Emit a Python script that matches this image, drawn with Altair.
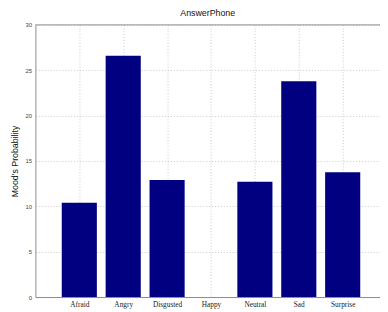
import altair as alt
import pandas as pd

categories = ["Afraid", "Angry", "Disgusted", "Happy", "Neutral", "Sad", "Surprise"]
values = [10.4, 26.6, 12.9, 0.0, 12.7, 23.8, 13.75]

positions = list(range(1, len(categories) + 1))
df = pd.DataFrame({"cat": categories, "pos": positions, "value": values})
df["x0"] = df["pos"] - 0.4
df["x1"] = df["pos"] + 0.4

label_expr = "[''," + ",".join(f"'{c}'" for c in categories) + "][datum.value] || ''"

x_scale = alt.Scale(domain=[0, 7.85], nice=False, zero=False)
y_scale = alt.Scale(domain=[0, 30], nice=False)

bars = alt.Chart(df).mark_rect(color="#000080").encode(
    x=alt.X("x0:Q", scale=x_scale,
            axis=alt.Axis(values=positions, labelExpr=label_expr, title=None,
                          grid=True, gridColor="#c8c8c8", gridDash=[1, 2], gridWidth=1,
                          ticks=False, domainColor="#8a8a8a", labelFont="Liberation Serif",
                          labelFontSize=7.5, labelColor="#222", labelPadding=4,
                          labelFontWeight="normal")),
    x2="x1:Q",
    y=alt.Y("value:Q", scale=y_scale,
            axis=alt.Axis(values=[0, 5, 10, 15, 20, 25, 30], title="Mood's Probability",
                          grid=True, gridColor="#c8c8c8", gridDash=[1, 2], gridWidth=1,
                          ticks=False, domainColor="#8a8a8a", labelFont="Liberation Sans",
                          labelFontSize=6, labelColor="#444", labelPadding=4,
                          titleFont="Liberation Sans", titleFontSize=9, titleFontWeight="normal",
                          titleColor="#111", titlePadding=6)),
    y2=alt.Y2(datum=0),
)

top = alt.Chart(pd.DataFrame({"t": [30]})).mark_rule(color="#8a8a8a", strokeWidth=1).encode(
    y=alt.Y("t:Q", scale=y_scale)
)

chart = alt.layer(bars, top).properties(
    width=352, height=278,
    title=alt.TitleParams("AnswerPhone", font="Liberation Sans", fontSize=9,
                          fontWeight="normal", color="#111", offset=4),
    autosize=alt.AutoSizeParams(type="none"),
    padding={"left": 28, "top": 14, "right": 0, "bottom": 12},
).configure_view(stroke=None)

chart.save("out.html", embed_options={"renderer": "svg", "actions": False})
